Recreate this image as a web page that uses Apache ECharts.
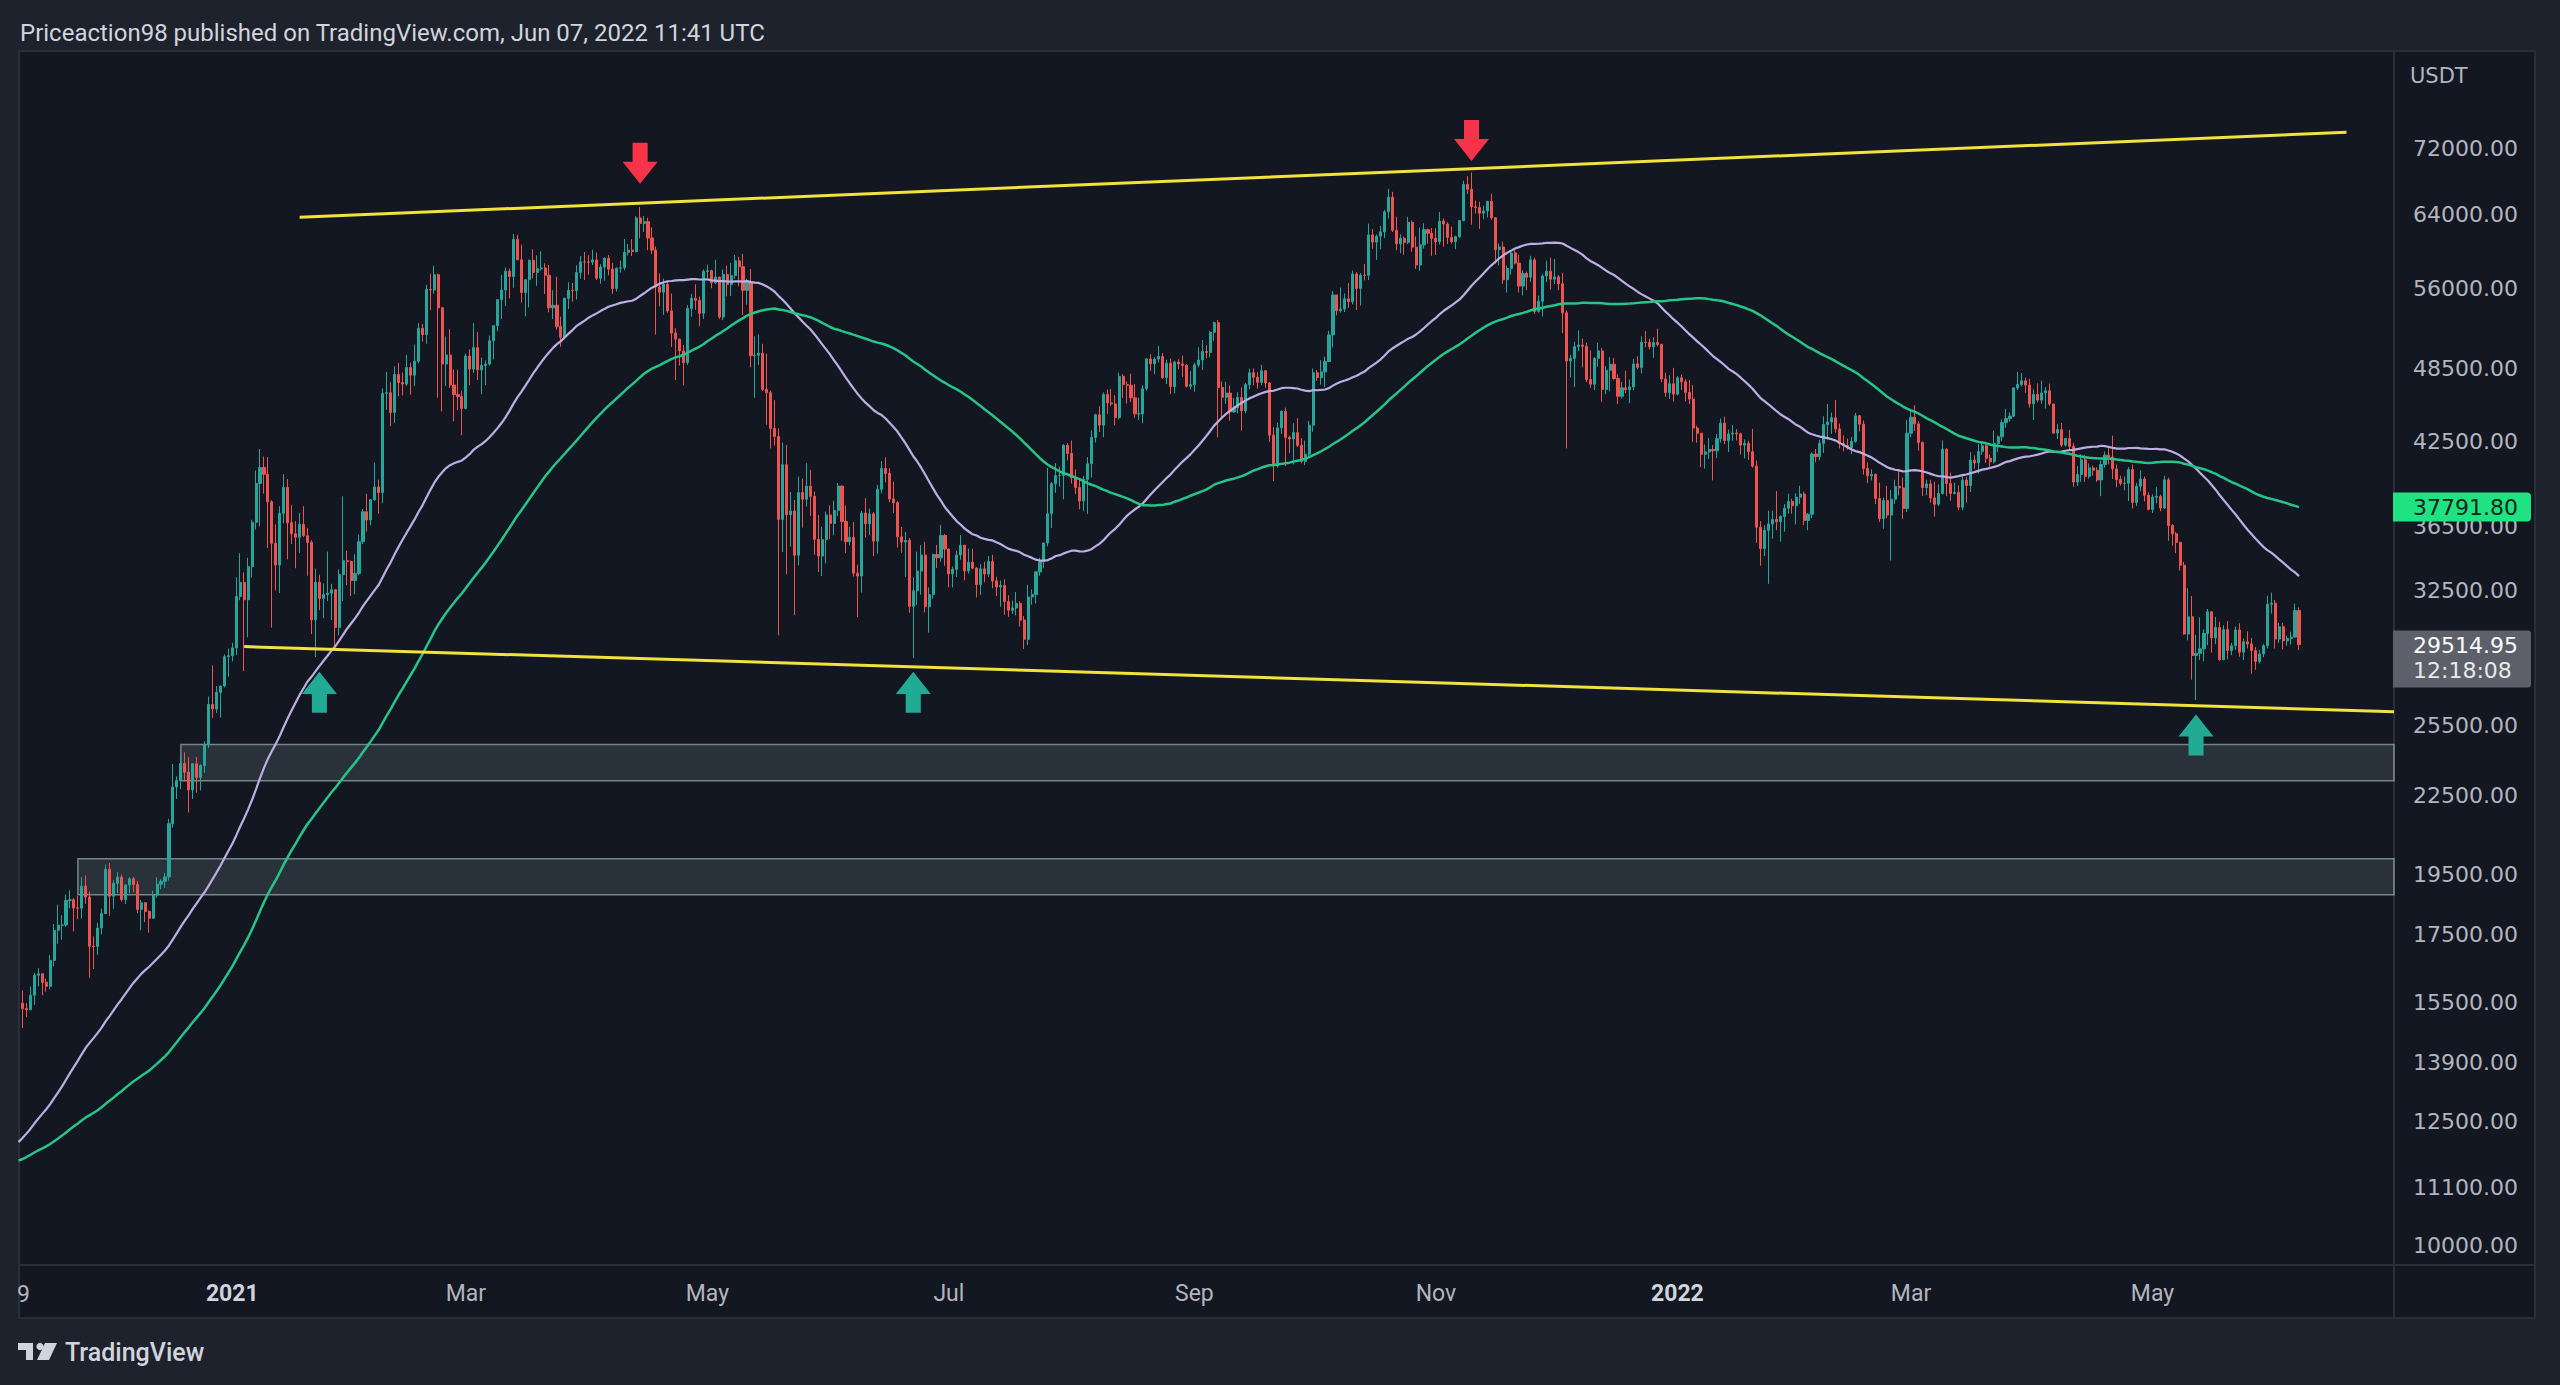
<!DOCTYPE html>
<html>
<head>
<meta charset="utf-8">
<script src="https://cdn.jsdelivr.net/npm/echarts@6/dist/echarts.min.js"></script>
<style>
html,body{margin:0;padding:0;background:#1e222d;overflow:hidden;}
#c{width:2560px;height:1385px;}
</style>
</head>
<body>
<div id="c"></div>
<script>
// ---------------- DATA (BTC/USDT daily) ----------------
// closes before the visible window (2020-08-01 .. 2020-11-07), used only for the moving averages
const closesBefore = [
11801,11071,11219,11191,11744,11762,11594,11761,11681,11892,11392,11565,11780,11769,11865,11911,12281,11945,11754,11866,11525,11682,11665,11774,11366,11488,11329,11540,11507,11711,11650,
11924,11397,10171,10469,10169,10255,10373,10127,10230,10344,10392,10443,10329,10680,10786,10954,10939,10933,11080,10920,10418,10535,10241,10736,10686,10728,10774,10696,10841,10776,
10619,10570,10542,10666,10792,10599,10666,10925,11050,11293,11370,11528,11429,11419,11505,11319,11360,11503,11750,11910,12780,12968,12923,13111,13031,13071,13639,13272,13455,13560,13791,
13761,13550,14023,14144,15590,15580,14818
];
const firstDay = '2020-11-08';   // first visible daily candle
// daily closes 2020-11-08 .. 2022-06-07
const closes = [
15475,15328,15297,15701,16276,16317,16068,15955,16716,17645,17804,17817,18621,18642,18370,18364,19107,18733,17150,17139,17719,18185,19696,
18765,19205,19422,18650,19148,19359,19166,18324,18541,18254,18036,18808,19175,19274,19427,21380,22840,23107,23822,23455,22719,23811,23235,23733,24664,26493,26281,27079,27385,28875,28923,
29332,32178,33000,31988,33949,36769,39432,40582,40088,38150,35404,34051,37371,39144,36742,36018,35792,36630,35892,35468,30850,33005,32067,32289,32366,32569,30432,33467,34316,34270,33114,
33537,35510,37473,36926,38290,39187,38796,46374,46420,44807,47969,47287,47153,48577,47911,49133,52119,51553,55906,55841,57408,54087,48891,49676,47073,46276,46106,45135,
49587,48440,50349,48374,48751,48882,50971,52376,54884,55851,57773,57221,61188,58968,55606,56900,58912,57648,58030,58102,57351,54083,54340,52303,51293,55025,55817,55777,57635,58746,58740,
58720,58950,57050,58202,59129,57992,56000,58088,58132,59770,60007,59861,63576,62960,63159,61334,60006,56150,55634,56425,53787,51690,51125,50047,49004,54021,55034,54825,53556,57750,
57829,56578,57169,53200,57436,56393,57314,58862,58241,55816,56670,49631,49670,49841,46708,46426,43538,42910,36964,40784,37280,37528,34655,38796,38324,39241,38529,35663,34605,35641,37253,
36693,37568,39246,36829,35513,35796,33552,33380,37388,36675,37331,35546,39020,40516,40144,38349,38092,35819,35483,35600,31608,32509,33678,34663,31584,32283,34700,34494,35911,35045,
33504,33787,34668,35287,33691,34220,33863,32875,33815,33502,34259,33087,32729,32820,31880,31383,31520,31778,30839,29790,32144,32287,33634,34258,35425,37337,39406,39995,40008,42236,41626,
39845,39147,38208,39723,40862,42836,44614,43792,46285,45580,45497,44400,47810,47100,47047,46004,44695,44700,46760,49339,48905,49321,49546,47706,48960,46942,49058,48897,48767,46971,47100,
48810,49246,49999,49915,51756,52663,46863,46048,46395,44850,45173,46025,44940,47111,48121,47737,47299,48292,47241,43012,40694,43575,44896,42840,42716,43208,42236,41034,41564,43790,
48116,47711,48199,49112,51514,55362,53805,53967,54966,54690,57485,56006,57372,57347,61672,60875,61528,62009,64280,66002,62193,60688,61286,60852,63078,60329,58413,60575,62253,61859,61300,
60911,63220,62896,61395,60937,61470,63273,67525,66947,64882,64774,64122,64380,65520,63606,60058,60344,56891,58052,59707,58622,56247,57541,57138,58960,53727,54721,57274,57776,56950,
57184,56480,53601,49152,49396,50441,50588,50471,47545,47140,49389,50053,46702,48343,48864,47632,46131,46834,46681,46914,48889,48588,50838,50821,50429,50809,50640,47588,46444,47178,46306,
47686,47345,46458,45897,43569,43160,41558,41734,41912,41822,42736,43946,42592,43099,43177,43114,42250,42375,41744,40680,36445,35071,36244,36660,36958,36809,37160,37716,38166,37881,38466,
38690,36896,37311,41575,41382,42380,43840,44043,44373,43495,42373,42217,42053,42535,44544,43873,40515,39975,40080,38386,37008,38230,37250,38328,39219,39116,37700,43160,
44421,43892,42454,39137,39400,38420,37988,38730,41941,39422,38730,38807,37777,39671,39286,41118,40917,41757,42201,41262,41002,42364,42882,43991,44313,44511,46827,47122,47434,47067,45510,
46283,45811,46407,46580,45497,43170,43444,42252,42753,42158,39530,40074,41147,39942,40552,40378,39678,40801,41493,41358,40480,39709,39441,39450,40426,38112,39235,39742,38596,37630,
38468,38525,37728,39690,36552,36013,35472,34039,30071,31017,28936,29047,29283,30101,31305,29863,30425,28716,30315,29201,29445,30294,29110,29655,29543,29197,28630,29016,29446,31727,31792,
29799,30468,29704,29833,29907,31370,29514.95
];
const highs = [
15650,15840,15480,15950,16350,16480,16330,16180,16880,17850,18480,18130,18820,18960,18700,18770,19420,19480,18920,17450,17890,18350,19860,
19920,19310,19590,19510,19170,19420,19420,19290,18640,18560,18290,18950,19410,19350,19570,21560,23800,23280,24170,24300,24100,23840,24100,23790,24790,26870,28420,27390,27410,28990,29300,
29600,33300,34780,33600,34500,36940,40365,41950,41380,41350,38260,36630,37850,40100,39750,37950,36850,37400,37850,36400,35600,33820,33460,32940,34880,32920,32560,33780,38530,34930,34330,
34720,35980,37660,38700,38310,40955,39700,46790,48200,47310,48680,48980,48150,49700,49000,50620,52620,52530,56370,57500,58350,57530,54180,51370,52040,48400,48380,46600,
49800,50200,52640,51770,49450,49200,51450,52400,54900,57390,58150,58060,61780,61680,60600,56940,58980,60100,59450,59880,58600,58420,55840,57200,53230,55080,56640,56560,58400,59370,59800,
59460,60040,59750,58500,59250,59470,58650,58150,58890,61220,60660,61200,63770,64854,63800,63600,62500,60400,57530,57000,56760,55500,52130,51170,50590,54350,55460,56430,55200,57960,
58450,57930,58970,57200,57950,58360,58650,59500,59300,59590,57000,58000,51370,51560,50700,49800,46600,45800,43550,42450,42250,38830,38270,39920,39790,40900,40410,38860,37250,36480,37500,
37900,38230,39470,39290,37900,36480,36790,34070,37530,38400,37690,37440,39330,41060,41330,40530,39560,38200,36460,36140,35750,33300,34880,35300,35500,32710,34750,35300,36600,36000,
35070,33950,34950,35940,35290,35070,35060,33920,34100,34250,34600,34680,33340,33110,33190,32250,31940,32440,31900,31060,32860,32580,33650,34500,35440,40550,39540,40900,40640,42320,42400,
42600,40450,39780,39970,41350,43390,44700,45310,46450,46700,46740,46220,48140,48000,47380,48050,47160,46000,47050,49380,49760,49500,50500,49870,49280,49370,49180,49310,49630,48880,48250,
49000,50390,51050,50560,51900,52780,52920,47380,47350,47030,45990,46460,46880,47250,48480,48500,48170,48820,48370,47330,43640,44000,44980,45200,42970,43940,44350,42790,42600,44130,
48490,48360,49230,49530,51890,55750,55330,56100,55500,56560,57840,57680,57580,58530,62930,62330,61720,62680,64490,67000,66640,63730,61750,61490,63710,63290,61500,62500,62980,62370,62430,
62420,64270,63520,63090,62600,61590,63300,68000,68530,69000,65600,65470,65000,65550,66400,63620,60720,60950,58360,59860,60050,59540,57870,57720,59400,59200,55300,57440,58870,59200,
59050,57380,57600,53860,49700,50880,51940,51200,50800,50100,49480,50800,50300,48700,49500,49430,47990,47350,48300,47540,49330,49570,51380,51870,51160,51280,52090,50700,48120,47900,48550,
47830,47980,47570,47500,47070,43750,43150,42300,42790,42250,43100,44320,44470,43450,43800,43480,43200,42680,42580,43500,41100,36840,36570,37550,37550,38900,37230,38000,38720,38360,38740,
39270,38860,37390,41690,41950,42650,44500,45490,44800,45821,43920,43000,42750,42870,44770,44580,44170,40960,40450,40150,39490,38440,39250,38970,39700,40300,39850,44200,
44950,45400,44100,42520,39700,39690,39550,39360,42600,42000,40190,39490,39300,39950,39890,41720,41480,42320,42400,42300,41540,43360,43000,44250,45100,44800,46900,48189,48100,47700,47600,
46720,47210,47440,46890,47200,45500,43900,43970,42800,43420,42420,40690,41560,41500,40880,40710,40600,41100,41760,42200,42976,40800,39980,39930,40610,40800,39470,40370,39920,38800,
38670,39170,38650,39980,39845,36650,36130,35500,34240,32660,32200,30030,30990,30330,31460,31300,31020,30740,30550,30780,29600,30480,30660,29830,30220,29860,29380,29230,29530,32220,32400,
31980,30680,30690,29980,30200,31765,31550
];
const lows = [
14700,14800,15100,15280,15430,15950,15700,15800,15870,16540,17220,17350,17760,18360,17610,18000,18020,18510,16200,16460,16880,17520,18170,
18110,18340,18870,18580,18500,18860,18900,18200,17650,17910,17570,18020,18710,19000,19050,19300,21230,22350,22750,23060,21815,22350,22600,22700,23430,24500,25860,26090,25880,27320,27850,
28625,28950,31960,28130,29900,33290,36300,36500,38720,35110,30420,32530,32380,36700,34400,35360,33850,34800,35800,33400,30070,28850,31390,30950,31910,30840,29240,30000,31920,32840,32200,
32300,33420,35360,36160,36570,38220,37350,38050,45020,43730,43980,46130,46200,47000,46250,47000,48950,50900,50710,53860,55480,46000,44890,47000,46830,44100,45000,43000,
45060,47050,48100,47500,46300,47070,48750,49300,51850,53000,54270,55010,56080,58960,54600,53270,54120,57020,56270,57820,55450,53650,53000,52000,50430,51280,53960,54690,54900,57000,56870,
57400,58420,56860,56480,56790,57350,55470,55700,57630,57870,59420,59370,59760,61300,62020,60000,59580,51540,54220,53400,53620,50400,47500,48750,47040,48810,53220,53880,52330,53020,
57050,56030,56440,53000,52900,55200,55240,56990,56240,53400,54400,48600,46000,48800,46560,43830,42000,42200,30000,34850,33490,35200,31110,34030,36420,37820,37200,34680,33630,33380,34150,
35670,35920,37170,35570,34800,35260,33350,31000,32400,35780,35930,34600,34750,38730,39510,38120,37400,35130,34810,33330,31250,28805,31680,32280,31270,30150,32040,33860,34250,34000,
32710,32700,33320,34370,33130,33530,33770,32130,32260,33010,33320,32660,32200,31600,31130,31020,31180,31100,30480,29278,29480,31710,31770,33400,33880,35210,36400,38770,39200,38320,41100,
39420,38690,37640,37510,37330,39850,42450,43260,42850,44690,45350,43770,44250,45990,45520,45650,44380,44200,43950,46600,48280,48000,49030,47600,47150,46320,46370,48420,47770,46860,46700,
46510,48600,48370,49400,49480,50970,42843,44410,45510,44140,44760,44740,43370,44750,46720,47050,46760,47050,46850,42500,39600,40570,43100,40680,41650,40800,42100,40880,40750,41410,
43280,47420,47100,46900,49070,50380,53360,53620,53680,54080,54420,53880,54300,56820,56850,60150,58960,60100,61320,63480,62000,60000,59670,59510,60650,59820,58000,57820,60170,60720,59400,
59480,60620,60380,60680,60720,60100,61360,63260,66380,62820,64100,62330,63400,63630,63380,58570,58370,56480,55600,57400,58480,55600,55300,55830,56680,53500,53610,53250,56660,55880,
56460,55840,51680,42000,47720,46900,50040,48600,47320,46850,46650,48640,45670,46300,46550,47530,45500,45950,46400,45560,46630,48420,48050,50390,50170,49420,50450,47320,46100,45900,45680,
46200,46650,45700,45500,42500,42430,40610,40500,41200,39650,41270,42450,42320,41730,42580,42600,41540,41250,41140,40570,35440,34010,34600,32917,35700,36250,35510,36150,37350,37350,36630,
38000,36590,36250,37050,40960,41120,41650,42670,43120,43200,42000,41770,41880,41570,42430,43300,40070,39450,39640,38000,36800,36350,37040,34322,38000,38580,37000,37450,
42850,43330,41830,38550,38600,38090,37150,37870,38650,38540,38220,38660,37580,37580,38110,38830,40500,40140,41510,40920,40470,40880,41740,42570,43600,44070,44420,46660,46950,46420,45200,
44200,45620,45520,45120,45360,43120,42720,42110,42130,41870,39200,39250,39550,39550,39770,39990,39550,38540,40570,40820,39750,39170,39290,38940,38200,37700,37870,38880,38180,37580,
37390,38050,37510,37670,35570,35260,34780,33710,30030,29730,27700,26700,28700,28630,29480,29090,29530,28670,28690,28730,28950,29230,28870,28700,29300,28000,28200,28520,28840,29300,31200,
29300,29590,29250,29450,29500,29890,29220
];
// price scale labels (right axis)
const yTickValues = [72000,64000,56000,48500,42500,36500,32500,25500,22500,19500,17500,15500,13900,12500,11100,10000];
// time scale labels
const xTickDates  = ['2021-01-01','2021-03-01','2021-05-01','2021-07-01','2021-09-01','2021-11-01','2022-01-01','2022-03-01','2022-05-01'];
const xTickLabels = ['2021','Mar','May','Jul','Sep','Nov','2022','Mar','May'];
// drawn trend lines [date, price]
const upperTrend = [['2021-01-18', 63650], ['2022-06-19', 74170]];
const lowerTrend = [['2021-01-04', 29400], ['2022-07-01', 26150]];
// support zones [start date, top, bottom]
const zones = [['2020-12-19', 24650, 23100], ['2020-11-23', 20070, 18810]];
// arrows [date, price]
const arrowsDown = [['2021-04-14', 70150], ['2021-11-10', 73080]];
const arrowsUp   = [['2021-01-23', 27080], ['2021-06-22', 27080], ['2022-05-12', 25080]];
// price scale tags
const maTagValue = 37791.80;
const clockText = '12:18:08';
const maShort = 50, maLong = 100;

// ---------------- BUILD ----------------
const DAY = 86400000;
const t0 = Date.parse(firstDay);
const xMin = Date.parse('2020-11-08T09:00:00Z');
const xMax = Date.parse('2022-07-01T00:00:00Z');
const allCloses = closesBefore.concat(closes);
const candles = closes.map((c, i) => {
  const o = allCloses[closesBefore.length + i - 1];
  const h = Math.max(highs[i], o, c);
  const l = Math.min(lows[i], o, c);
  return [t0 + i * DAY, o, c, l, h];
});
function sma(n) {
  const out = [];
  for (let i = 0; i < closes.length; i++) {
    const end = closesBefore.length + i;
    const start = end - n + 1;
    if (start < 0) continue;
    let s = 0;
    for (let k = start; k <= end; k++) s += allCloses[k];
    out.push([t0 + i * DAY, s / n]);
  }
  return out;
}
const ma50 = sma(maShort), ma100 = sma(maLong);
const toPts = arr => arr.map(p => [Date.parse(p[0]), p[1]]);

const UP = '#26a69a', DOWN = '#ef5350';
const LABEL = '#b2b5be';
const downArrow = 'path://M2.85,0 L7.15,0 L7.15,4.6 L10,4.6 L5,10 L0,4.6 L2.85,4.6 Z';
const upArrow = 'path://M5,0 L10,5.4 L7.15,5.4 L7.15,10 L2.85,10 L2.85,5.4 L0,5.4 Z';

const chart = echarts.init(document.getElementById('c'), null, {renderer: 'svg', width: 2560, height: 1385});
const option = {
  backgroundColor: '#1e222d',
  animation: false,
  grid: {left: 20, right: 166, top: 51, bottom: 120, containLabel: false},
  xAxis: {type: 'time', min: xMin, max: xMax,
    axisLine: {show: false}, axisTick: {show: false}, axisLabel: {show: false}, splitLine: {show: false}},
  yAxis: {type: 'log', logBase: 10, min: 9663, max: 85860, position: 'right',
    axisLine: {show: false}, axisTick: {show: false}, axisLabel: {show: false}, splitLine: {show: false}},
  series: [
    {
      type: 'candlestick', name: 'BTCUSDT', data: candles, encode: {x: 0, y: [1, 2, 3, 4]},
      barWidth: 2.6, z: 3,
      itemStyle: {color: UP, color0: DOWN, borderColor: UP, borderColor0: DOWN, borderWidth: 1},
      markArea: {
        silent: true,
        itemStyle: {color: 'rgba(130,160,160,0.2)', borderColor: 'rgba(165,185,185,0.65)', borderWidth: 1.5},
        data: zones.map(z => [{xAxis: Date.parse(z[0]), yAxis: z[1]}, {xAxis: xMax, yAxis: z[2]}])
      }
    },
    {
      type: 'line', name: 'MA50', data: ma50, symbol: 'none', showSymbol: false, z: 4,
      lineStyle: {color: '#bcaee3', width: 2.2},
      markLine: {
        silent: true, symbol: ['none', 'none'],
        lineStyle: {color: 'rgba(0,0,0,0)', width: 0},
        label: {show: true, position: 'end', distance: 19, color: LABEL,
          fontFamily: 'DejaVu Sans', fontSize: 22, formatter: p => Number(p.value).toFixed(2)},
        data: yTickValues.map(v => ({yAxis: v}))
      }
    },
    {
      type: 'line', name: 'MA100', data: ma100, symbol: 'none', showSymbol: false, z: 4,
      lineStyle: {color: '#27c488', width: 2.5},
      markLine: {
        silent: true, symbol: ['none', 'none'],
        lineStyle: {color: 'rgba(0,0,0,0)', width: 0},
        label: {show: true, position: 'start', distance: 17, color: LABEL, fontFamily: 'Roboto', fontSize: 23},
        data: xTickDates.map((d, i) => ({
          xAxis: Date.parse(d),
          label: /^\d{4}$/.test(xTickLabels[i])
            ? {formatter: xTickLabels[i], fontWeight: 'bold', color: '#d1d4dc'}
            : {formatter: xTickLabels[i]}
        }))
      }
    },
    {type: 'line', name: 'upper', data: toPts(upperTrend), symbol: 'none', z: 5,
      lineStyle: {color: '#f2e23c', width: 3}},
    {type: 'line', name: 'lower', data: toPts(lowerTrend), symbol: 'none', z: 5,
      lineStyle: {color: '#f2e23c', width: 3}},
    {type: 'scatter', name: 'tops', data: toPts(arrowsDown), symbol: downArrow, symbolSize: [35, 41], z: 6,
      itemStyle: {color: '#f7334a', opacity: 1}},
    {type: 'scatter', name: 'bottoms', data: toPts(arrowsUp), symbol: upArrow, symbolSize: [35, 41], z: 6,
      itemStyle: {color: '#22ab94', opacity: 1}}
  ]
};
chart.setOption(option);

const lastPrice = closes[closes.length - 1];
const yMa = chart.convertToPixel({yAxisIndex: 0}, maTagValue);
const yPx = chart.convertToPixel({yAxisIndex: 0}, lastPrice);
const FRAME = '#2a2e39';
const LOGO = '#d1d4dc';
chart.setOption({
  graphic: [
    {type: 'rect', z: -10, shape: {x: 19, y: 51, width: 2516, height: 1267},
      style: {fill: '#131722', stroke: FRAME, lineWidth: 2}},
    {type: 'line', z: -9, shape: {x1: 2394, y1: 51, x2: 2394, y2: 1318}, style: {stroke: FRAME, lineWidth: 2}},
    {type: 'line', z: -9, shape: {x1: 19, y1: 1265, x2: 2535, y2: 1265}, style: {stroke: FRAME, lineWidth: 2}},
    {type: 'text', z: 10, x: 20, y: 33,
      style: {text: 'Priceaction98 published on TradingView.com, Jun 07, 2022 11:41 UTC', fill: '#d1d4dc',
        font: '24px Roboto', textVerticalAlign: 'middle', verticalAlign: 'middle'}},
    {type: 'text', z: 10, x: 2410, y: 76,
      style: {text: 'USDT', fill: LABEL, font: '21px "DejaVu Sans"', textVerticalAlign: 'middle', verticalAlign: 'middle'}},
    {type: 'text', z: 10, x: 17, y: 1294,
      style: {text: '9', fill: LABEL, font: '23px Roboto', textVerticalAlign: 'middle', verticalAlign: 'middle'}},
    // TradingView logo
    {type: 'rect', z: 10, shape: {x: 18, y: 1343, width: 15, height: 7}, style: {fill: LOGO}},
    {type: 'rect', z: 10, shape: {x: 26, y: 1343, width: 7, height: 17}, style: {fill: LOGO}},
    {type: 'circle', z: 10, shape: {cx: 40, cy: 1346.5, r: 3.6}, style: {fill: LOGO}},
    {type: 'polygon', z: 10, shape: {points: [[45, 1343], [57, 1343], [49, 1360], [37, 1360]]}, style: {fill: LOGO}},
    {type: 'text', z: 10, x: 65, y: 1352,
      style: {text: 'TradingView', fill: LOGO, font: '500 25px Roboto', textVerticalAlign: 'middle', verticalAlign: 'middle'}},
    // MA tag on the price scale
    {type: 'rect', z: 100, shape: {x: 2393, y: yMa - 14.5, width: 138, height: 29, r: [0, 4, 4, 0]}, style: {fill: '#1fe383'}},
    {type: 'text', z: 101, x: 2413, y: yMa,
      style: {text: maTagValue.toFixed(2), fill: '#10261a', font: '22px "DejaVu Sans"', textVerticalAlign: 'middle', verticalAlign: 'middle'}},
    // last price tag
    {type: 'rect', z: 100, shape: {x: 2393, y: yPx - 14, width: 138, height: 57, r: [0, 3, 3, 0]}, style: {fill: '#5d606b'}},
    {type: 'text', z: 101, x: 2413, y: yPx + 1,
      style: {text: lastPrice.toFixed(2), fill: '#ffffff', font: '22px "DejaVu Sans"', textVerticalAlign: 'middle', verticalAlign: 'middle'}},
    {type: 'text', z: 101, x: 2413, y: yPx + 26,
      style: {text: clockText, fill: '#e8e9ec', font: '22px "DejaVu Sans"', textVerticalAlign: 'middle', verticalAlign: 'middle'}}
  ]
});
</script>
</body>
</html>
